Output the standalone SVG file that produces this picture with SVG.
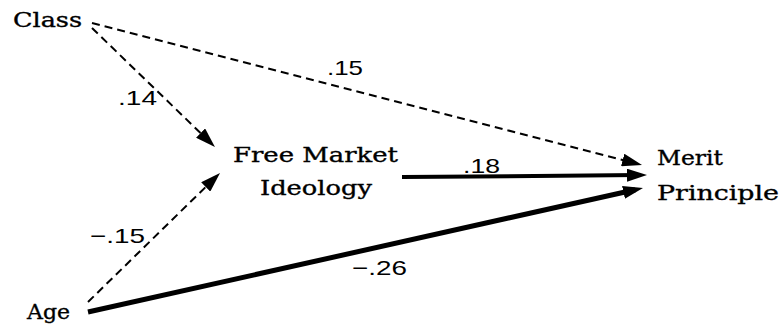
<svg xmlns="http://www.w3.org/2000/svg" width="784" height="328" viewBox="0 0 784 328">
<style>
.node{font-family:"DejaVu Serif","Liberation Serif",serif;font-size:20px;fill:#000;stroke:#000;stroke-width:0.35}
.lbl{font-family:"Liberation Sans","DejaVu Sans",sans-serif;font-size:21px;fill:#000}
.dash{fill:none;stroke:#000;stroke-width:2;stroke-dasharray:8 5}
.thick{fill:none;stroke:#000}
</style>
<defs>
<marker id="ah" viewBox="0 0 20 13" refX="12" refY="6.5" markerWidth="20" markerHeight="13" markerUnits="userSpaceOnUse" orient="auto">
<path d="M0,0 L20,6.5 L0,13 z" fill="#000" stroke="none"/>
</marker>
</defs>
<rect width="784" height="328" fill="#fff"/>
<g id="connectors">
<line class="dash" x1="92" y1="23" x2="634.3" y2="163" marker-end="url(#ah)"/>
<line class="dash" x1="92" y1="28" x2="209.2" y2="141.4" marker-end="url(#ah)"/>
<line class="dash" x1="88" y1="302" x2="214.3" y2="178.6" marker-end="url(#ah)"/>
<line class="thick" stroke-width="4" x1="402" y1="177" x2="639" y2="175.1" marker-end="url(#ah)"/>
<line class="thick" stroke-width="5" x1="88" y1="312" x2="635.2" y2="189.7" marker-end="url(#ah)"/>
<text class="lbl" x="327" y="75" textLength="36" lengthAdjust="spacingAndGlyphs">.15</text>
<text class="lbl" x="118" y="105" textLength="39" lengthAdjust="spacingAndGlyphs">.14</text>
<text class="lbl" x="90" y="243" textLength="55" lengthAdjust="spacingAndGlyphs">−.15</text>
<text class="lbl" x="463" y="173" textLength="37" lengthAdjust="spacingAndGlyphs">.18</text>
<text class="lbl" x="352" y="275" textLength="55" lengthAdjust="spacingAndGlyphs">−.26</text>
</g>
<g id="class"><text class="node" x="13" y="27" textLength="69" lengthAdjust="spacingAndGlyphs">Class</text></g>
<g id="age"><text class="node" x="27" y="319" textLength="43" lengthAdjust="spacingAndGlyphs">Age</text></g>
<g id="free-market-ideology">
<text class="node" x="233" y="162" textLength="165" lengthAdjust="spacingAndGlyphs">Free Market</text>
<text class="node" x="260" y="195" textLength="112" lengthAdjust="spacingAndGlyphs">Ideology</text>
</g>
<g id="merit-principle">
<text class="node" x="657" y="165" textLength="66" lengthAdjust="spacingAndGlyphs">Merit</text>
<text class="node" x="657" y="200" textLength="122" lengthAdjust="spacingAndGlyphs">Principle</text>
</g>
</svg>
